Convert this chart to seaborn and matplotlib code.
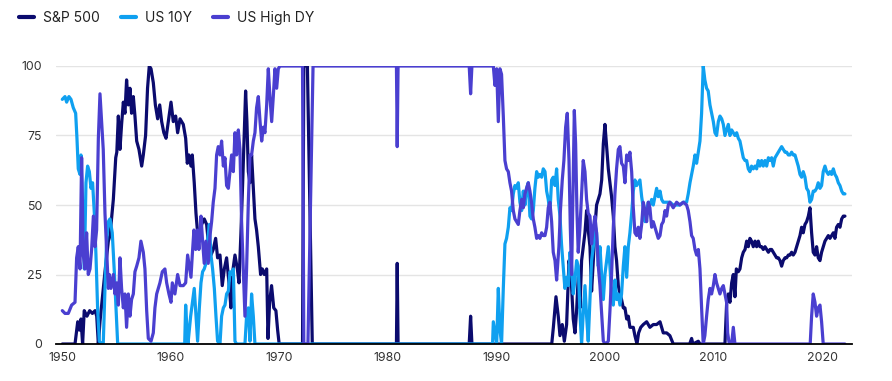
import matplotlib
matplotlib.use("Agg")
import matplotlib.pyplot as plt
import seaborn as sns
import pandas as pd

# ---------------- data ----------------
series_names = ["S&P 500", "US 10Y", "US High DY"]
series_colors = ["#0b0b6e", "#0fa0f0", "#4a3fd0"]

sp_years = [1950.03, 1951.2, 1951.45, 1951.6, 1951.75, 1951.9, 1952.05, 1952.3, 1952.55, 1952.8,
            1953.05, 1953.2, 1953.35, 1953.5, 1953.65, 1953.96, 1954.27, 1954.42, 1954.73, 1954.95,
            1955.05, 1955.19, 1955.34, 1955.49, 1955.65, 1955.8, 1955.95, 1956.11, 1956.26, 1956.41,
            1956.57, 1956.72, 1956.88, 1957.09, 1957.34, 1957.49, 1957.7, 1957.88, 1958.04, 1958.2,
            1958.41, 1958.6, 1958.81, 1959.0, 1959.18, 1959.38, 1959.58, 1959.79, 1960.04, 1960.25,
            1960.47, 1960.65, 1960.87, 1961.17, 1961.39, 1961.54, 1961.69, 1961.88, 1962.0, 1962.18,
            1962.34, 1962.49, 1962.65, 1962.86, 1963.1, 1963.32, 1963.47, 1963.72, 1963.93, 1964.15,
            1964.33, 1964.55, 1964.76, 1964.95, 1965.16, 1965.38, 1965.56, 1965.72, 1965.93, 1966.15,
            1966.3, 1966.48, 1966.64, 1966.79, 1966.91, 1967.03, 1967.16, 1967.31, 1967.46, 1967.62,
            1967.77, 1967.92, 1968.08, 1968.29, 1968.45, 1968.63, 1968.85, 1968.97, 1969.12, 1969.3,
            1969.5, 1969.7, 1969.86, 1970.0, 1972.15, 1972.27, 1972.6, 1973.05, 1980.8, 1980.87,
            1980.95, 1987.5, 1987.63, 1987.75, 1995.1, 1995.25, 1995.49, 1995.7, 1995.86, 1996.07,
            1996.26, 1996.47, 1996.69, 1996.87, 1997.08, 1997.24, 1997.39, 1997.54, 1997.7, 1997.85,
            1998.0, 1998.16, 1998.31, 1998.46, 1998.62, 1998.77, 1998.93, 1999.08, 1999.23, 1999.39,
            1999.54, 1999.7, 1999.85, 2000.0, 2000.15, 2000.31, 2000.46, 2000.61, 2000.77, 2000.92,
            2001.07, 2001.23, 2001.38, 2001.53, 2001.69, 2001.84, 2002.0, 2002.15, 2002.3, 2002.61,
            2002.76, 2002.95, 2003.1, 2003.3, 2003.53, 2003.84, 2004.14, 2004.45, 2004.76, 2005.07,
            2005.37, 2005.68, 2005.98, 2006.29, 2007.8, 2007.98, 2008.1, 2008.6, 2008.75, 2011.05,
            2011.21, 2011.36, 2011.51, 2011.67, 2011.82, 2011.97, 2012.1, 2012.28, 2012.43, 2012.59,
            2012.74, 2012.9, 2013.05, 2013.2, 2013.35, 2013.5, 2013.66, 2013.82, 2013.97, 2014.12,
            2014.27, 2014.43, 2014.58, 2014.74, 2014.89, 2015.05, 2015.2, 2015.35, 2015.5, 2015.66,
            2015.81, 2015.97, 2016.12, 2016.27, 2016.42, 2016.58, 2016.73, 2016.89, 2017.04, 2017.19,
            2017.34, 2017.5, 2017.65, 2017.8, 2017.96, 2018.11, 2018.26, 2018.42, 2018.57, 2018.73,
            2018.88, 2019.03, 2019.18, 2019.34, 2019.49, 2019.64, 2019.8, 2019.95, 2020.1, 2020.26,
            2020.41, 2020.57, 2020.72, 2020.87, 2021.03, 2021.18, 2021.33, 2021.49, 2021.64, 2021.8,
            2021.95, 2022.1]
sp_vals = [0, 0, 8, 5, 9, 0, 12, 10, 12, 11,
           12, 10, 0, 8, 14, 26, 37, 39, 52, 67,
           69, 82, 70, 79, 87, 83, 95, 86, 92, 83,
           89, 82, 73, 70, 64, 68, 75, 92, 100, 99,
           94, 86, 81, 86, 80, 76, 74, 80, 87, 80,
           82, 76, 81, 79, 74, 65, 68, 64, 68, 58,
           47, 40, 37, 43, 45, 43, 37, 32, 34, 38,
           31, 32, 21, 27, 31, 22, 13, 26, 32, 27,
           22, 40, 58, 77, 91, 80, 62, 58, 68, 56,
           45, 41, 35, 25, 27, 25, 27, 2, 15, 21,
           13, 12, 5, 0, 0, 100, 100, 0, 0, 29,
           0, 0, 10, 0, 0, 6, 17, 10, 3, 7,
           1, 7, 30, 25, 9, 4, 12, 24, 13, 30,
           35, 40, 48, 41, 35, 19, 30, 42, 50, 52,
           54, 59, 72, 79, 71, 63, 58, 53, 46, 35,
           30, 21, 18, 16, 13, 13, 9, 10, 6, 6,
           3, 0, 4, 6, 7, 8, 6, 7, 7, 8,
           4, 4, 3, 0, 0, 2, 0, 1, 0, 0,
           15, 18, 15, 22, 25, 17, 27, 26, 27, 31,
           33, 34, 37, 35, 38, 37, 35, 37, 35, 37,
           35, 35, 34, 35, 34, 33, 34, 34, 33, 32,
           31, 31, 30, 28, 30, 31, 31, 32, 32, 33,
           32, 33, 35, 37, 39, 42, 40, 43, 44, 46,
           49, 40, 33, 32, 35, 31, 30, 33, 35, 37,
           38, 39, 38, 39, 40, 38, 42, 43, 42, 45,
           46, 46]

ty_years = [1950.03, 1950.28, 1950.43, 1950.64, 1950.83, 1951.04, 1951.26, 1951.38, 1951.5, 1951.66,
            1951.75, 1951.9, 1952.06, 1952.21, 1952.36, 1952.52, 1952.67, 1952.82, 1952.98, 1953.13,
            1953.28, 1953.44, 1953.65, 1953.8, 1953.96, 1954.11, 1954.27, 1954.42, 1954.63, 1954.82,
            1954.97, 1955.13, 1961.3, 1961.39, 1961.5, 1961.6, 1961.85, 1962.18, 1962.34, 1962.49,
            1962.65, 1962.8, 1962.95, 1963.1, 1963.26, 1963.41, 1963.57, 1963.72, 1963.87, 1964.03,
            1964.18, 1964.33, 1964.55, 1964.7, 1964.86, 1965.01, 1965.16, 1965.32, 1965.47, 1965.62,
            1965.78, 1965.93, 1966.08, 1966.85, 1967.0, 1967.16, 1967.31, 1967.46, 1967.62, 1967.77,
            1989.65, 1989.72, 1989.87, 1990.03, 1990.18, 1990.33, 1990.48, 1990.64, 1990.79, 1990.94,
            1991.1, 1991.25, 1991.4, 1991.56, 1991.71, 1991.87, 1992.02, 1992.17, 1992.33, 1992.48,
            1992.63, 1992.78, 1992.94, 1993.09, 1993.24, 1993.4, 1993.55, 1993.71, 1993.86, 1994.01,
            1994.17, 1994.32, 1994.48, 1994.63, 1994.78, 1994.93, 1995.09, 1995.24, 1995.4, 1995.55,
            1995.7, 1995.86, 1996.0, 1996.16, 1996.31, 1996.47, 1996.62, 1996.78, 1996.93, 1997.08,
            1997.24, 1997.39, 1997.54, 1997.7, 1997.85, 1998.0, 1998.16, 1998.31, 1998.46, 1998.62,
            1998.77, 1998.93, 1999.08, 1999.23, 1999.39, 1999.54, 1999.69, 1999.85, 2000.0, 2000.15,
            2000.31, 2000.46, 2000.61, 2000.77, 2000.92, 2001.07, 2001.23, 2001.38, 2001.53, 2001.69,
            2001.84, 2002.0, 2002.15, 2002.3, 2002.46, 2002.61, 2002.76, 2002.92, 2003.07, 2003.22,
            2003.38, 2003.53, 2003.69, 2003.84, 2003.99, 2004.14, 2004.3, 2004.45, 2004.6, 2004.76,
            2004.91, 2005.07, 2005.22, 2005.37, 2005.68, 2005.98, 2006.29, 2006.6, 2006.9, 2007.21,
            2007.52, 2007.67, 2007.83, 2007.98, 2008.13, 2008.29, 2008.44, 2008.6, 2008.75, 2008.9,
            2009.05, 2009.2, 2009.36, 2009.51, 2009.67, 2009.82, 2009.98, 2010.13, 2010.28, 2010.44,
            2010.59, 2010.75, 2010.9, 2011.05, 2011.2, 2011.36, 2011.51, 2011.67, 2011.82, 2011.97,
            2012.13, 2012.28, 2012.43, 2012.59, 2012.74, 2012.9, 2013.05, 2013.2, 2013.35, 2013.5,
            2013.66, 2013.82, 2013.97, 2014.12, 2014.27, 2014.43, 2014.58, 2014.74, 2014.89, 2015.05,
            2015.2, 2015.35, 2015.5, 2015.66, 2015.81, 2015.97, 2016.12, 2016.27, 2016.42, 2016.58,
            2016.73, 2016.89, 2017.04, 2017.19, 2017.34, 2017.5, 2017.65, 2017.8, 2017.96, 2018.11,
            2018.26, 2018.42, 2018.57, 2018.73, 2018.88, 2019.03, 2019.18, 2019.34, 2019.49, 2019.64,
            2019.8, 2019.95, 2020.1, 2020.26, 2020.41, 2020.57, 2020.72, 2020.87, 2021.03, 2021.18,
            2021.33, 2021.49, 2021.64, 2021.8, 2021.95, 2022.1]
ty_vals = [88, 89, 87, 89, 88, 85, 83, 74, 63, 61,
           68, 50, 27, 58, 64, 62, 56, 58, 47, 32,
           13, 1, 0, 0, 20, 37, 44, 45, 40, 26,
           13, 0, 0, 14, 6, 0, 10, 20, 10, 1,
           13, 22, 26, 27, 29, 37, 43, 32, 27, 20,
           10, 1, 0, 10, 13, 14, 18, 19, 26, 25,
           27, 1, 0, 0, 10, 13, 1, 18, 10, 0,
           0, 8, 4, 0, 20, 5, 0, 20, 36, 38,
           42, 49, 48, 54, 57, 56, 58, 51, 48, 55,
           50, 56, 58, 46, 45, 48, 56, 62, 60, 61,
           60, 63, 62, 55, 52, 47, 59, 60, 57, 63,
           52, 46, 36, 28, 20, 24, 21, 33, 28, 18,
           23, 30, 28, 11, 0, 11, 21, 10, 1, 16,
           30, 35, 43, 40, 28, 35, 25, 16, 25, 30,
           35, 28, 18, 14, 23, 16, 18, 14, 18, 28,
           35, 24, 35, 40, 47, 55, 59, 57, 58, 59,
           53, 49, 44, 48, 51, 50, 52, 50, 53, 56,
           53, 55, 52, 51, 51, 51, 50, 50, 50, 51,
           51, 54, 58, 61, 64, 68, 65, 69, 73, 83,
           100, 95, 92, 91, 86, 83, 80, 76, 75, 80,
           82, 81, 79, 75, 77, 79, 75, 77, 76, 75,
           76, 74, 73, 70, 67, 66, 66, 63, 62, 64,
           63, 64, 63, 66, 64, 66, 64, 66, 64, 67,
           66, 67, 64, 67, 68, 69, 70, 71, 70, 69,
           69, 68, 68, 69, 68, 68, 66, 64, 61, 60,
           62, 60, 56, 55, 51, 52, 55, 55, 56, 58,
           56, 57, 62, 64, 62, 61, 62, 61, 63, 61,
           60, 58, 57, 55, 54, 54]

dy_years = [1950.03, 1950.28, 1950.58, 1950.89, 1951.2, 1951.35, 1951.5, 1951.66, 1951.81, 1951.96,
            1952.12, 1952.27, 1952.42, 1952.58, 1952.73, 1952.89, 1953.04, 1953.19, 1953.35, 1953.5,
            1953.65, 1953.8, 1953.96, 1954.11, 1954.27, 1954.36, 1954.51, 1954.73, 1954.88, 1955.03,
            1955.19, 1955.34, 1955.49, 1955.65, 1955.8, 1955.95, 1956.11, 1956.26, 1956.41, 1956.57,
            1956.72, 1956.88, 1957.09, 1957.27, 1957.49, 1957.64, 1957.8, 1957.95, 1958.2, 1958.41,
            1958.56, 1958.72, 1958.87, 1959.02, 1959.24, 1959.48, 1959.64, 1959.85, 1960.04, 1960.16,
            1960.4, 1960.65, 1960.87, 1961.17, 1961.39, 1961.57, 1961.69, 1961.88, 1962.0, 1962.15,
            1962.31, 1962.46, 1962.61, 1962.8, 1962.95, 1963.1, 1963.26, 1963.47, 1963.63, 1963.78,
            1963.93, 1964.09, 1964.24, 1964.39, 1964.55, 1964.7, 1964.86, 1965.01, 1965.16, 1965.32,
            1965.47, 1965.62, 1965.78, 1965.93, 1966.08, 1966.24, 1966.39, 1966.54, 1966.7, 1966.85,
            1967.0, 1967.16, 1967.31, 1967.46, 1967.62, 1967.77, 1967.92, 1968.08, 1968.24, 1968.39,
            1968.55, 1968.69, 1968.85, 1969.0, 1969.15, 1969.31, 1969.46, 1969.61, 1969.77, 1969.92,
            1970.07, 1972.15, 1972.27, 1972.65, 1973.12, 1980.8, 1980.87, 1980.95, 1987.5, 1987.63,
            1987.75, 1989.72, 1989.87, 1990.03, 1990.18, 1990.33, 1990.48, 1990.64, 1990.79, 1990.94,
            1991.1, 1991.25, 1991.4, 1991.56, 1991.71, 1991.87, 1992.02, 1992.17, 1992.33, 1992.48,
            1992.63, 1992.78, 1992.94, 1993.09, 1993.24, 1993.4, 1993.55, 1993.71, 1993.86, 1994.01,
            1994.17, 1994.32, 1994.48, 1994.63, 1994.78, 1994.93, 1995.09, 1995.24, 1995.4, 1995.55,
            1995.76, 1995.9, 1996.07, 1996.22, 1996.38, 1996.53, 1996.69, 1996.81, 1996.93, 1997.05,
            1997.18, 1997.3, 1997.42, 1997.54, 1997.7, 1997.85, 1998.0, 1998.16, 1998.31, 1998.46,
            1998.62, 1998.77, 1998.93, 1999.08, 1999.23, 1999.39, 1999.54, 1999.7, 1999.85, 2000.06,
            2000.31, 2000.46, 2000.61, 2000.77, 2000.92, 2001.07, 2001.23, 2001.38, 2001.53, 2001.69,
            2001.84, 2002.0, 2002.15, 2002.3, 2002.46, 2002.61, 2002.76, 2002.92, 2003.07, 2003.22,
            2003.38, 2003.53, 2003.69, 2003.84, 2003.99, 2004.14, 2004.3, 2004.45, 2004.76, 2004.91,
            2005.07, 2005.22, 2005.37, 2005.53, 2005.68, 2005.83, 2005.98, 2006.29, 2006.6, 2006.9,
            2007.21, 2007.52, 2007.67, 2007.83, 2007.98, 2008.13, 2008.29, 2008.44, 2008.6, 2008.75,
            2008.9, 2009.05, 2009.2, 2009.36, 2009.51, 2009.67, 2009.82, 2009.98, 2010.13, 2010.28,
            2010.44, 2010.59, 2010.75, 2010.9, 2011.05, 2011.2, 2011.3, 2011.45, 2011.67, 2011.82,
            2011.97, 2018.9, 2019.03, 2019.18, 2019.34, 2019.49, 2019.64, 2019.8, 2019.95, 2020.1,
            2022.1]
dy_vals = [12, 11, 11, 14, 15, 31, 35, 27, 67, 32,
           27, 40, 25, 27, 34, 46, 35, 41, 74, 90,
           80, 70, 47, 34, 20, 25, 20, 25, 18, 22,
           14, 31, 20, 13, 18, 6, 18, 10, 16, 18,
           26, 28, 31, 37, 33, 27, 12, 2, 1, 4,
           13, 18, 20, 22, 26, 27, 22, 18, 15, 22,
           18, 25, 21, 21, 22, 32, 29, 24, 32, 41,
           34, 41, 34, 46, 37, 29, 37, 29, 39, 44,
           51, 56, 68, 71, 68, 73, 64, 67, 57, 56,
           62, 68, 62, 76, 68, 77, 70, 44, 26, 10,
           27, 51, 68, 68, 73, 76, 85, 89, 80, 73,
           78, 76, 86, 99, 89, 80, 89, 99, 92, 99,
           100, 100, 0, 0, 100, 100, 71, 100, 100, 90,
           100, 100, 93, 99, 80, 99, 97, 82, 66, 63,
           62, 58, 55, 48, 45, 44, 43, 48, 52, 49,
           54, 56, 58, 55, 51, 45, 42, 38, 39, 38,
           40, 39, 39, 42, 49, 51, 44, 33, 30, 23,
           35, 48, 59, 66, 78, 83, 66, 42, 25, 54,
           84, 72, 48, 33, 42, 54, 66, 62, 52, 47,
           46, 36, 42, 46, 40, 28, 21, 11, 1, 0,
           1, 12, 25, 42, 54, 63, 70, 71, 65, 64,
           58, 68, 66, 69, 62, 49, 40, 39, 42, 38,
           43, 51, 48, 44, 51, 49, 42, 44, 40, 38,
           39, 43, 44, 48, 46, 50, 51, 49, 51, 50,
           51, 50, 48, 44, 39, 38, 34, 32, 34, 27,
           13, 0, 3, 10, 16, 20, 18, 21, 25, 22,
           20, 18, 20, 21, 18, 15, 4, 0, 0, 6,
           0, 0, 10, 18, 15, 10, 13, 14, 8, 0,
           0]

x_ticks = [1950, 1960, 1970, 1980, 1990, 2000, 2010, 2020]
y_ticks = [0, 25, 50, 75, 100]

# ---------------- build long table ----------------
frames = []
for name, yrs, vals in [(series_names[0], sp_years, sp_vals),
                        (series_names[1], ty_years, ty_vals),
                        (series_names[2], dy_years, dy_vals)]:
    frames.append(pd.DataFrame({"year": yrs, "value": vals, "series": name}))
df = pd.concat(frames, ignore_index=True)

# ---------------- style ----------------
sns.set_style("white")
plt.rcParams["font.family"] = ["Inter", "DejaVu Sans"]

fig = plt.figure(figsize=(8.92, 3.81), dpi=100)
ax = fig.add_axes([56 / 892, 1 - 344 / 381, (852 - 56) / 892, (344 - 66) / 381])

sns.lineplot(data=df, x="year", y="value", hue="series", hue_order=series_names,
             palette=dict(zip(series_names, series_colors)), estimator=None,
             sort=True, linewidth=2.3, ax=ax, legend=False)

ax.set_xlim(1949.45, 2022.75)
ax.set_ylim(0, 100)
ax.set_xticks(x_ticks)
ax.set_xticklabels([str(t) for t in x_ticks])
ax.set_yticks(y_ticks)
ax.set_yticklabels([str(t) for t in y_ticks])
ax.set_xlabel("")
ax.set_ylabel("")

ax.yaxis.grid(True, color="#e4e4e4", linewidth=1.0)
ax.xaxis.grid(False)
ax.set_axisbelow(True)
for s in ["left", "right", "top"]:
    ax.spines[s].set_visible(False)
ax.spines["bottom"].set_color("#000000")
ax.spines["bottom"].set_linewidth(1.3)
ax.spines["bottom"].set_zorder(5)
ax.tick_params(axis="both", length=0, labelsize=8.9, labelcolor="#333333")
ax.tick_params(axis="y", pad=10)
ax.tick_params(axis="x", pad=5.5)

# legend
from matplotlib.lines import Line2D
handles = [Line2D([0], [0], color=c, lw=3) for c in series_colors]
fig.legend(handles, series_names, loc="upper left", bbox_to_anchor=(19 / 892, 1 - 11 / 381),
           ncol=3, frameon=False, fontsize=10, handlelength=1.1, handletextpad=0.65,
           columnspacing=1.5, borderpad=0, borderaxespad=0, labelcolor="#222222")

fig.savefig("out.png", dpi=100)
